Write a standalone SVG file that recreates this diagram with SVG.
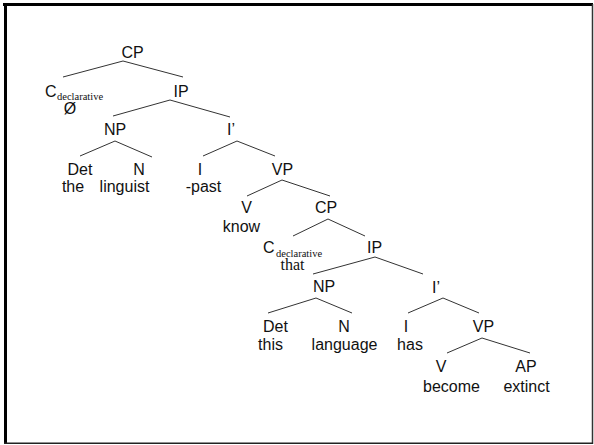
<svg xmlns="http://www.w3.org/2000/svg" width="594" height="445" viewBox="0 0 594 445">
  <style>
    .lbl { font-family: "Liberation Sans", Arial, sans-serif; font-size: 16px; fill: #111; text-anchor: middle; }
    .sub { font-family: "Liberation Serif", "Times New Roman", serif; font-size: 10.5px; fill: #111; }
    .ser { font-family: "Liberation Serif", "Times New Roman", serif; font-size: 16px; fill: #111; text-anchor: middle; }
    .edge { stroke: #333; stroke-width: 1; fill: none; }
  </style>
  <rect width="594" height="445" fill="#fff"/>
  <!-- frame: heavy top/left, light right/bottom -->
  <g id="frame">
    <line x1="3" y1="4.5" x2="593" y2="4.5" stroke="#000" stroke-width="3"/>
    <line x1="5.5" y1="3" x2="5.5" y2="444" stroke="#000" stroke-width="3"/>
    <line x1="592.5" y1="4" x2="592.5" y2="444" stroke="#333" stroke-width="1.5"/>
    <line x1="4" y1="443.2" x2="593" y2="443.2" stroke="#222" stroke-width="1.6"/>
  </g>

  <g id="connectors" class="edge">
    <path d="M123 61L63 77M123 61L183 77"/>
    <path d="M170 100L113 116M170 100L230 117"/>
    <path d="M115 141L80 156M115 141L152 157"/>
    <path d="M237 141L203 156M237 141L275 156"/>
    <path d="M282 180L247 196M282 180L330 196"/>
    <path d="M328 219L293 236M328 219L365 236"/>
    <path d="M375 257L313 274M375 257L423 274"/>
    <path d="M316 298L268 313M316 298L352 313"/>
    <path d="M443 298L408 313M443 298L479 313"/>
    <path d="M482 338L447 353M482 338L530 353"/>
  </g>

  <g id="cp1"><text class="lbl" x="132.5" y="58">CP</text></g>
  <g id="c1">
    <text class="lbl" x="45" y="97" style="text-anchor:start">C</text>
    <text class="sub" x="57" y="99.5">declarative</text>
    <text class="lbl" x="70" y="113.5">Ø</text>
  </g>
  <g id="ip1"><text class="lbl" x="181" y="97">IP</text></g>
  <g id="np1"><text class="lbl" x="115" y="135">NP</text></g>
  <g id="ibar1"><text class="lbl" x="231" y="135">I’</text></g>
  <g id="det1">
    <text class="lbl" x="80" y="175">Det</text>
    <text class="lbl" x="73" y="192">the</text>
  </g>
  <g id="n1">
    <text class="lbl" x="139" y="175">N</text>
    <text class="lbl" x="124.5" y="192">linguist</text>
  </g>
  <g id="i1">
    <text class="lbl" x="200" y="175">I</text>
    <text class="lbl" x="203.5" y="192">-past</text>
  </g>
  <g id="vp1"><text class="lbl" x="282.5" y="175">VP</text></g>
  <g id="v1">
    <text class="lbl" x="246.5" y="213">V</text>
    <text class="lbl" x="241.5" y="232">know</text>
  </g>
  <g id="cp2"><text class="lbl" x="326" y="213">CP</text></g>
  <g id="c2">
    <text class="lbl" x="263" y="253" style="text-anchor:start">C</text>
    <text class="sub" x="276" y="256.5">declarative</text>
    <text class="ser" x="292.5" y="269.5">that</text>
  </g>
  <g id="ip2"><text class="lbl" x="374.5" y="253">IP</text></g>
  <g id="np2"><text class="lbl" x="324" y="292">NP</text></g>
  <g id="ibar2"><text class="lbl" x="436" y="293">I’</text></g>
  <g id="det2">
    <text class="lbl" x="275.5" y="332">Det</text>
    <text class="lbl" x="270.5" y="350">this</text>
  </g>
  <g id="n2">
    <text class="lbl" x="344" y="332">N</text>
    <text class="lbl" x="344.5" y="350">language</text>
  </g>
  <g id="i2">
    <text class="lbl" x="406" y="332">I</text>
    <text class="lbl" x="410" y="350">has</text>
  </g>
  <g id="vp2"><text class="lbl" x="483.5" y="332">VP</text></g>
  <g id="v2">
    <text class="lbl" x="441" y="372">V</text>
    <text class="lbl" x="451.5" y="392">become</text>
  </g>
  <g id="ap">
    <text class="lbl" x="526" y="372">AP</text>
    <text class="lbl" x="526.5" y="392">extinct</text>
  </g>
</svg>
